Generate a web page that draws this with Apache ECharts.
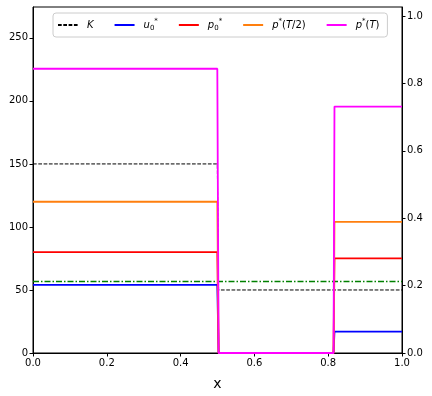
<!DOCTYPE html>
<html>
<head>
<meta charset="utf-8">
<script src="https://cdn.jsdelivr.net/npm/echarts@6/dist/echarts.min.js"></script>
<style>
html,body{margin:0;padding:0;background:#fff;}
#chart{width:432px;height:396px;}
</style>
</head>
<body>
<div id="chart"></div>
<script>
// breakpoints along x (the step down near 0.5 and the step up near 0.815)
var xs = [0, 0.4995, 0.503, 0.8145, 0.817, 1.0];
// series values at those breakpoints
var kVals   = [150, 150, 50, 50, 50, 50];
var u0Vals  = [54, 54, 0, 0, 17, 17];
var p0Vals  = [80, 80, 0, 0, 75, 75];
var pT2Vals = [120, 120, 0, 0, 104, 104];
var pTVals  = [225.5, 225.5, 0, 0, 195.5, 195.5];
// reference level on right axis
var refX = [0, 1];
var refVals = [0.212, 0.212];

var leftTicks = [0, 50, 100, 150, 200, 250];
var rightTicks = [0, 0.2, 0.4, 0.6, 0.8, 1.0];

function pairs(x, y) {
    var out = [];
    for (var i = 0; i < x.length; ++i) out.push([x[i], y[i]]);
    return out;
}

var legendText = {
    'K': '{i|K}',
    'u0': '{i|u}{sub|0}{sup|*}',
    'p0': '{i|p}{sub|0}{sup|*}',
    'pT2': '{i|p}{sup|*}{n|(}{i|T}{n|/2)}',
    'pT': '{i|p}{sup|*}{n|(}{i|T}{n|)}'
};

var font = "'DejaVu Sans'";
var chart = echarts.init(document.getElementById('chart'));

function line(name, data, color, width, type, axis) {
    return {
        type: 'line',
        name: name,
        data: data,
        yAxisIndex: axis || 0,
        symbol: 'none',
        animation: false,
        color: color,
        lineStyle: {color: color, width: width, type: type},
        itemStyle: {color: color}
    };
}

var option = {
    animation: false,
    textStyle: {fontFamily: font},
    grid: {
        left: 33, right: 30, top: 7, bottom: 42,
        show: true, borderColor: '#000', borderWidth: 1
    },
    legend: {
        data: ['K', 'u0', 'p0', 'pT2', 'pT'],
        left: 53, top: 13,
        padding: [5, 8, 5, 4],
        itemWidth: 20, itemHeight: 12, itemGap: 20,
        itemStyle: {opacity: 0},
        borderColor: '#ccc', borderWidth: 1, borderRadius: 3,
        backgroundColor: 'rgba(255,255,255,0.8)',
        formatter: function (name) { return legendText[name]; },
        textStyle: {
            fontFamily: font, fontSize: 10, color: '#000',
            padding: [0, 0, 0, 4],
            rich: {
                i: {fontFamily: font, fontStyle: 'italic', fontSize: 10, lineHeight: 14},
                n: {fontFamily: font, fontSize: 10, lineHeight: 14},
                sub: {fontFamily: font, fontSize: 7, verticalAlign: 'bottom', lineHeight: 14, padding: [4, 0, 0, 0]},
                sup: {fontFamily: font, fontSize: 7, verticalAlign: 'top', lineHeight: 14}
            }
        }
    },
    xAxis: {
        type: 'value', min: 0, max: 1, interval: 0.2,
        name: 'x', nameLocation: 'middle', nameGap: 24,
        nameTextStyle: {fontFamily: font, fontSize: 14, color: '#000'},
        axisLine: {lineStyle: {color: '#000', width: 1}},
        axisTick: {length: 3.5, lineStyle: {color: '#000'}},
        axisLabel: {fontFamily: font, fontSize: 10, color: '#000', margin: 5,
            formatter: function (v) { return v.toFixed(1); }},
        splitLine: {show: false}
    },
    yAxis: [{
        type: 'value', min: 0, max: 274.5,
        axisLine: {show: true, lineStyle: {color: '#000', width: 1}},
        axisTick: {show: true, length: 3.5, lineStyle: {color: '#000'}, customValues: leftTicks},
        axisLabel: {fontFamily: font, fontSize: 10, color: '#000', margin: 5, customValues: leftTicks},
        splitLine: {show: false}
    }, {
        type: 'value', min: 0, max: 1.027, position: 'right',
        axisLine: {show: true, lineStyle: {color: '#000', width: 1}},
        axisTick: {show: true, length: 3.5, lineStyle: {color: '#000'}, customValues: rightTicks},
        axisLabel: {fontFamily: font, fontSize: 10, color: '#000', margin: 5, customValues: rightTicks,
            formatter: function (v) { return v.toFixed(1); }},
        splitLine: {show: false}
    }],
    series: [
        line('ref', pairs(refX, refVals), '#008000', 1.5, [6, 2, 1.5, 2], 1),
        line('K', pairs(xs, kVals), '#000000', 1, [3.7, 1.6]),
        line('u0', pairs(xs, u0Vals), '#0000ff', 1.8, 'solid'),
        line('p0', pairs(xs, p0Vals), '#ff0000', 1.8, 'solid'),
        line('pT2', pairs(xs, pT2Vals), '#ff7f0e', 1.8, 'solid'),
        line('pT', pairs(xs, pTVals), '#ff00ff', 1.8, 'solid')
    ]
};
chart.setOption(option);
</script>
</body>
</html>
